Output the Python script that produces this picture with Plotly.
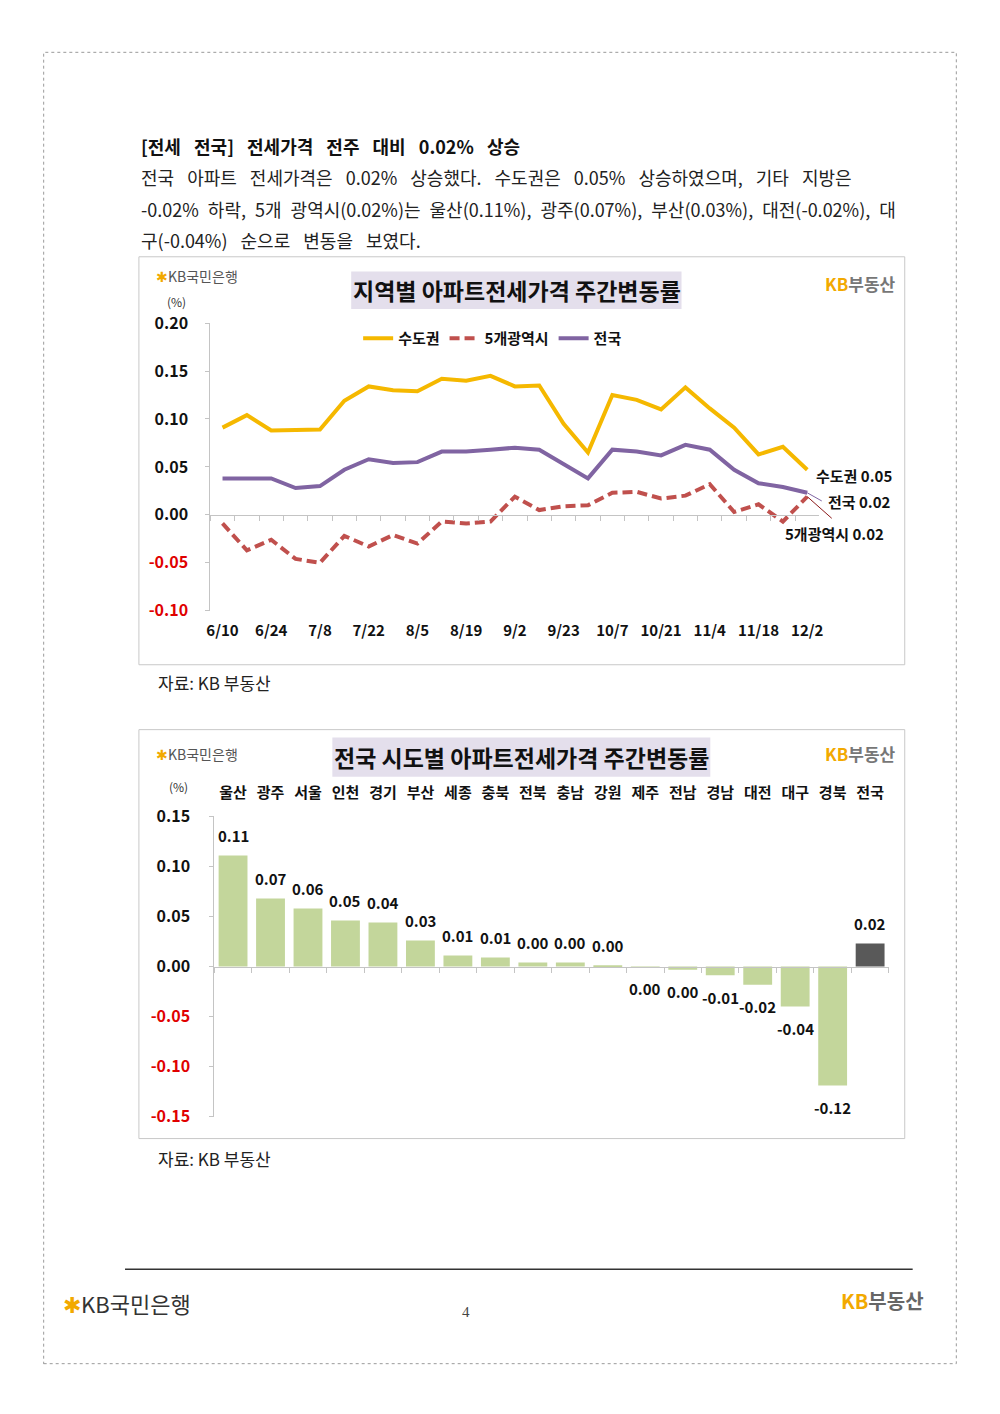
import plotly.graph_objects as go

W, H = 1000, 1414
FONT = "Noto Sans CJK KR"

# ---------------- data ----------------
dates = ["6/10", "6/17", "6/24", "7/1", "7/8", "7/15", "7/22", "7/29", "8/5", "8/12",
         "8/19", "8/26", "9/2", "9/9", "9/23", "9/30", "10/7", "10/14", "10/21", "10/28",
         "11/4", "11/11", "11/18", "11/25", "12/2"]
capital = [0.091, 0.104, 0.088, 0.088, 0.089, 0.119, 0.134, 0.130, 0.129, 0.142,
           0.140, 0.145, 0.134, 0.135, 0.095, 0.065, 0.125, 0.120, 0.110, 0.133,
           0.111, 0.091, 0.063, 0.071, 0.047]
metro5 = [-0.009, -0.037, -0.026, -0.046, -0.050, -0.022, -0.033, -0.021, -0.030, -0.007,
          -0.009, -0.007, 0.019, 0.005, 0.009, 0.010, 0.023, 0.024, 0.017, 0.020,
          0.032, 0.003, 0.011, -0.007, 0.019]
nation = [0.038, 0.038, 0.038, 0.028, 0.030, 0.047, 0.058, 0.054, 0.055, 0.066,
          0.066, 0.068, 0.070, 0.068, 0.053, 0.038, 0.068, 0.066, 0.062, 0.073,
          0.068, 0.047, 0.033, 0.029, 0.023]
series_names = ["수도권", "5개광역시", "전국"]

regions = ["울산", "광주", "서울", "인천", "경기", "부산", "세종", "충북", "전북",
           "충남", "강원", "제주", "전남", "경남", "대전", "대구", "경북", "전국"]
weekly = [0.111, 0.068, 0.058, 0.046, 0.044, 0.026, 0.011, 0.009, 0.004,
          0.004, 0.0013, -0.0004, -0.0033, -0.0088, -0.0183, -0.040, -0.119, 0.023]

line_ticks = [-0.10, -0.05, 0.00, 0.05, 0.10, 0.15, 0.20]
bar_ticks = [-0.15, -0.10, -0.05, 0.00, 0.05, 0.10, 0.15]

# ---------------- styles ----------------
YELLOW = "#f5b800"
RED = "#c0504d"
PURPLE = "#8064a2"
GREEN = "#c3d69b"
DARK = "#595959"
AXIS = "#c4c4c4"
NEG = "#e00000"
ORANGE = "#f2a900"


def px(x):
    return x / W


def py(y):
    return 1 - y / H


def fmt(v):
    r = round(v, 2)
    return "0.00" if r == 0 else f"{r:.2f}"


def tick_text(v):
    s = f"{v:.2f}"
    if v < 0:
        return f"<span style='color:{NEG}'>{s}</span>"
    return s


# plot domains (pixels -> paper)
L_X0, L_X1, L_Y0, L_Y1 = 208, 822, 315.5, 608
B_X0, B_X1, B_Y0, B_Y1 = 212, 892, 817.3, 1122.7

l_dom_y = [py(L_Y1), py(L_Y0)]
b_dom_y = [py(B_Y1), py(B_Y0)]
l_range = [line_ticks[0], line_ticks[-1]]
b_range = [bar_ticks[0], bar_ticks[-1]]
l_zero = l_dom_y[0] + (0 - l_range[0]) / (l_range[1] - l_range[0]) * (l_dom_y[1] - l_dom_y[0])
b_zero = b_dom_y[0] + (0 - b_range[0]) / (b_range[1] - b_range[0]) * (b_dom_y[1] - b_dom_y[0])

fig = go.Figure()

# ---------------- line chart ----------------
fig.add_trace(go.Scatter(x=dates, y=capital, name=series_names[0], mode="lines",
                         line=dict(color=YELLOW, width=4), xaxis="x", yaxis="y"))
fig.add_trace(go.Scatter(x=dates, y=metro5, name=series_names[1], mode="lines",
                         line=dict(color=RED, width=4, dash="10px,5px"), xaxis="x", yaxis="y"))
fig.add_trace(go.Scatter(x=dates, y=nation, name=series_names[2], mode="lines",
                         line=dict(color=PURPLE, width=4), xaxis="x", yaxis="y"))
# helper trace to register the zero-line axis
fig.add_trace(go.Scatter(x=dates, y=[None] * len(dates), xaxis="x2", yaxis="y",
                         showlegend=False, hoverinfo="skip", mode="lines"))

# ---------------- bar chart ----------------
bar_colors = [DARK if r == "전국" else GREEN for r in regions]
fig.add_trace(go.Bar(x=regions, y=weekly, marker=dict(color=bar_colors, line=dict(width=0)),
                     showlegend=False, xaxis="x3", yaxis="y3"))
fig.add_trace(go.Scatter(x=regions, y=[None] * len(regions), xaxis="x4", yaxis="y3",
                         showlegend=False, hoverinfo="skip", mode="lines"))

tickfont = dict(family=FONT, size=16, color="#111", weight="bold")

fig.update_layout(
    width=W, height=H,
    margin=dict(l=0, r=0, t=0, b=0),
    paper_bgcolor="white", plot_bgcolor="rgba(0,0,0,0)",
    font=dict(family=FONT, color="#111"),
    bargap=0.23,
    showlegend=True,
    legend=dict(orientation="h", x=px(357), y=py(331), xanchor="left", yanchor="middle",
                font=dict(family=FONT, size=15, color="#111", weight="bold"),
                bgcolor="rgba(0,0,0,0)", itemwidth=30, tracegroupgap=0),
    # line chart axes
    xaxis=dict(domain=[px(L_X0), px(L_X1)], anchor="y", type="category",
               range=[-0.5, len(dates) - 0.5], tickvals=dates[::2], ticktext=dates[::2],
               showline=False, ticks="", showgrid=False, zeroline=False,
               ticklabelstandoff=9, tickfont=dict(family=FONT, size=15, color="#111", weight="bold")),
    xaxis2=dict(overlaying="x", anchor="free", position=l_zero, type="category",
                range=[-0.5, len(dates) - 0.5], showline=True, linecolor=AXIS, linewidth=1,
                ticks="outside", tickson="boundaries", ticklen=5, tickcolor=AXIS,
                showticklabels=False, showgrid=False, zeroline=False),
    yaxis=dict(domain=l_dom_y, anchor="x", range=l_range, tickvals=line_ticks,
               ticktext=[tick_text(v) for v in line_ticks], showline=True, linecolor=AXIS,
               ticks="outside", ticklen=4, tickcolor=AXIS, showgrid=False, zeroline=False,
               ticklabelstandoff=14, tickfont=tickfont),
    # bar chart axes
    xaxis3=dict(domain=[px(B_X0), px(B_X1)], anchor="y3", type="category", side="top",
                range=[-0.5, len(regions) - 0.5], showline=False, ticks="", showgrid=False,
                zeroline=False, ticklabelstandoff=14,
                tickfont=dict(family=FONT, size=15, color="#111", weight="bold")),
    xaxis4=dict(overlaying="x3", anchor="free", position=b_zero, type="category",
                range=[-0.5, len(regions) - 0.5], showline=True, linecolor=AXIS, linewidth=1,
                ticks="outside", tickson="boundaries", ticklen=5, tickcolor=AXIS,
                showticklabels=False, showgrid=False, zeroline=False),
    yaxis3=dict(domain=b_dom_y, anchor="x3", range=b_range, tickvals=bar_ticks,
                ticktext=[tick_text(v) for v in bar_ticks], showline=True, linecolor=AXIS,
                ticks="outside", ticklen=4, tickcolor=AXIS, showgrid=False, zeroline=False,
                ticklabelstandoff=16, tickfont=tickfont),
)

ann = []


def text(x, y, s, size=14, color="#111", bold=False, xanchor="left", family=FONT):
    ann.append(dict(x=px(x), y=py(y), xref="paper", yref="paper", text=s, showarrow=False,
                    xanchor=xanchor, yanchor="middle",
                    font=dict(family=family, size=size, color=color,
                              weight="bold" if bold else "normal")))


def spaced(s, ws):
    return f"<span style='word-spacing:{ws}px'>{s}</span>"


# page text
text(136, 135, spaced("[전세 전국] 전세가격 전주 대비 0.02% 상승", 9), size=18, bold=True)
text(136, 167, spaced("전국 아파트 전세가격은 0.02% 상승했다. 수도권은 0.05% 상승하였으며, 기타 지방은", 9), size=18, color="#222")
text(136, 199, spaced("-0.02% 하락, 5개 광역시(0.02%)는 울산(0.11%), 광주(0.07%), 부산(0.03%), 대전(-0.02%), 대", 5), size=18, color="#222")
text(136, 231, spaced("구(-0.04%) 순으로 변동을 보였다.", 9), size=18, color="#222")

# chart titles
text(517, 282, "지역별 아파트전세가격 주간변동률", size=23, bold=True, xanchor="center")
text(522, 757, "전국 시도별 아파트전세가격 주간변동률", size=23, bold=True, xanchor="center")

# small logos inside charts
for yy in (268, 754):
    text(151, yy, f"<span style='color:{ORANGE}'>✱</span><span style='color:#555'>KB국민은행</span>", size=14)
for yy in (275, 753):
    text(826, yy, f"<span style='color:{ORANGE}'>KB</span><span style='color:#777'>부동산</span>", size=17, bold=True)

# unit labels
text(174, 293, "(%)", size=12, color="#333", xanchor="center")
text(176, 787, "(%)", size=12, color="#333", xanchor="center")

# sources
text(153, 681, "자료: KB 부동산", size=17, color="#222")
text(153, 1165, "자료: KB 부동산", size=17, color="#222")

# footer
text(57, 1312, f"<span style='color:{ORANGE}'>✱</span><span style='color:#333'>KB국민은행</span>", size=22)
text(842, 1310, f"<span style='color:{ORANGE}'>KB</span><span style='color:#666'>부동산</span>", size=20, bold=True)
text(466, 1321, "4", size=15, color="#444", xanchor="center", family="Liberation Serif")

# bar value labels (anchored to the data)
for r, v in zip(regions, weekly):
    ann.append(dict(x=r, y=v, xref="x3", yref="y3", text=fmt(v), showarrow=False,
                    xanchor="center", yanchor="middle", yshift=20 if v >= 0 else -22,
                    font=dict(family=FONT, size=15, color="#111", weight="bold")))

# line chart end labels
last = dates[-1]
lab_font = dict(family=FONT, size=15, color="#111", weight="bold")
ann.append(dict(x=last, y=capital[-1], xref="x", yref="y", text=f"{series_names[0]} {fmt(capital[-1])}",
                showarrow=False, xanchor="left", yanchor="middle", xshift=7, yshift=-6, font=lab_font))
ann.append(dict(x=last, y=nation[-1], xref="x", yref="y", text="", showarrow=True,
                arrowhead=0, arrowwidth=1, arrowcolor=PURPLE, ax=16, ay=9, axref="pixel", ayref="pixel"))
ann.append(dict(x=last, y=nation[-1], xref="x", yref="y", text=f"{series_names[2]} {fmt(nation[-1])}",
                showarrow=False, xanchor="left", yanchor="middle", xshift=19, yshift=-9, font=lab_font))
ann.append(dict(x=last, y=metro5[-1], xref="x", yref="y", text="", showarrow=True,
                arrowhead=0, arrowwidth=1, arrowcolor="#8b1a1a", ax=26, ay=23, axref="pixel", ayref="pixel"))
ann.append(dict(x=last, y=metro5[-1], xref="x", yref="y", text=f"{series_names[1]} {fmt(metro5[-1])}",
                showarrow=False, xanchor="center", yanchor="middle", xshift=27, yshift=-37, font=lab_font))

fig.update_layout(annotations=ann)

# decorative shapes (paper coordinates)
shapes = []


def rect(x0, y0, x1, y1, **kw):
    shapes.append(dict(type="rect", xref="paper", yref="paper", x0=px(x0), x1=px(x1),
                       y0=py(y1), y1=py(y0), layer="below", **kw))


rect(40, 40, 960, 1374, line=dict(color="#9a9a9a", width=1, dash="dot"))
rect(136, 248, 908, 663, line=dict(color="#c8c8c8", width=1))
rect(136, 729, 908, 1145, line=dict(color="#c8c8c8", width=1))
rect(350, 263, 683, 301, line=dict(width=0), fillcolor="#e4dfec")
rect(331, 737, 712, 777, line=dict(width=0), fillcolor="#e4dfec")
shapes.append(dict(type="line", xref="paper", yref="paper", x0=px(122), x1=px(916),
                   y0=py(1278), y1=py(1278), line=dict(color="#333", width=1.5)))
fig.update_layout(shapes=shapes)

fig.write_html("out.html",
               post_script="document.body.style.margin='0';document.body.style.overflow='hidden';")
